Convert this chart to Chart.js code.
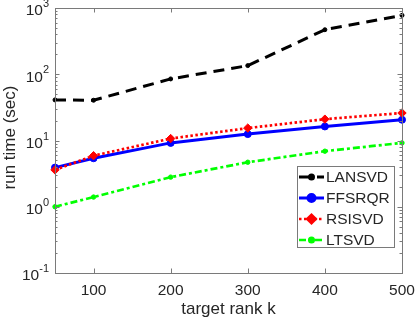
<!DOCTYPE html>
<html>
<head>
<meta charset="utf-8">
<script src="https://cdn.jsdelivr.net/npm/chart.js@4/dist/chart.umd.min.js"></script>
<style>
html,body{margin:0;padding:0;background:#fff;}
#c{display:block;}
</style>
</head>
<body>
<canvas id="c" width="415" height="319"></canvas>
<script>
const ranks = [50, 100, 200, 300, 400, 500];
const lansvd = [41, 40.5, 85, 135, 470, 775];
const ffsrqr = [3.9, 5.4, 9.2, 12.5, 16.3, 20.6];
const rsisvd = [3.6, 5.9, 10.7, 15.4, 21, 26];
const ltsvd = [1.0, 1.4, 2.8, 4.7, 6.9, 9.2];
const xTicks = [100, 200, 300, 400, 500];
const yExponents = [-1, 0, 1, 2, 3];
const seriesNames = ['LANSVD', 'FFSRQR', 'RSISVD', 'LTSVD'];
const xTitle = 'target rank k';
const yTitle = 'run time (sec)';

const FONT = '"Liberation Sans", Arial, Helvetica, sans-serif';
const AXIS_COLOR = '#7a7a7a';
const TEXT_COLOR = '#262626';

function pts(vals){ return ranks.map((k,i)=>({x:k, y:vals[i]})); }

const styles = [
  {color:'#000000', dash:[11,7], pointStyle:'circle', radius:2, width:3, order:4},
  {color:'#0000ff', dash:[], pointStyle:'circle', radius:3.5, width:3, order:3},
  {color:'#ff0000', dash:[2.5,2.5], pointStyle:'rectRot', radius:4.2, width:2.7, order:2},
  {color:'#00ff00', dash:[7,3,3,3], pointStyle:'circle', radius:2.2, width:2.7, order:1}
];
const seriesData = [lansvd, ffsrqr, rsisvd, ltsvd];

const datasets = seriesNames.map((name,i)=>({
  label: name,
  data: pts(seriesData[i]),
  borderColor: styles[i].color,
  backgroundColor: styles[i].color,
  borderWidth: styles[i].width,
  borderDash: styles[i].dash,
  pointStyle: styles[i].pointStyle,
  pointRadius: styles[i].radius,
  pointBorderWidth: 1,
  pointBorderColor: styles[i].color,
  pointBackgroundColor: styles[i].color,
  tension: 0,
  clip: false,
  order: styles[i].order
}));

const framePlugin = {
  id: 'frame',
  afterDraw(chart){
    const ctx = chart.ctx;
    const a = chart.chartArea;
    const xs = chart.scales.x, ys = chart.scales.y;
    ctx.save();
    ctx.setLineDash([]);
    ctx.strokeStyle = AXIS_COLOR;
    ctx.lineWidth = 1;
    ctx.strokeRect(Math.round(a.left)+0.5, Math.round(a.top)+0.5, Math.round(a.right-a.left), Math.round(a.bottom-a.top));
    ctx.beginPath();
    xTicks.forEach(v=>{
      const px = Math.round(xs.getPixelForValue(v))+0.5;
      ctx.moveTo(px, a.bottom); ctx.lineTo(px, a.bottom-4.5);
      ctx.moveTo(px, a.top); ctx.lineTo(px, a.top+4.5);
    });
    for (let e=-1; e<=3; e++){
      const py = Math.round(ys.getPixelForValue(Math.pow(10,e)))+0.5;
      ctx.moveTo(a.left, py); ctx.lineTo(a.left+4.5, py);
      ctx.moveTo(a.right, py); ctx.lineTo(a.right-4.5, py);
      if (e<3){
        for (let m=2; m<=9; m++){
          const pm = Math.round(ys.getPixelForValue(m*Math.pow(10,e)))+0.5;
          ctx.moveTo(a.left, pm); ctx.lineTo(a.left+2.5, pm);
          ctx.moveTo(a.right, pm); ctx.lineTo(a.right-2.5, pm);
        }
      }
    }
    ctx.stroke();

    ctx.fillStyle = TEXT_COLOR;
    ctx.font = '15.5px ' + FONT;
    ctx.textAlign = 'center';
    ctx.textBaseline = 'alphabetic';
    xTicks.forEach(v=>{
      ctx.fillText(String(v), xs.getPixelForValue(v), 295);
    });
    yExponents.forEach(e=>{
      const py = ys.getPixelForValue(Math.pow(10,e));
      const expStr = e<0 ? '-' + Math.abs(e) : String(e);
      ctx.font = '11px ' + FONT;
      const ew = ctx.measureText(expStr).width;
      ctx.textAlign = 'right';
      ctx.textBaseline = 'middle';
      ctx.fillText(expStr, 49, py-4);
      ctx.font = '15.5px ' + FONT;
      ctx.fillText('10', 49-ew, py+3);
    });
    ctx.font = '17px ' + FONT;
    ctx.textAlign = 'center';
    ctx.textBaseline = 'alphabetic';
    ctx.fillText(xTitle, (a.left+a.right)/2, 314);
    ctx.save();
    ctx.translate(15, 137.5);
    ctx.rotate(-Math.PI/2);
    ctx.fillText(yTitle, 0, 0);
    ctx.restore();

    const lx = 297, ly = 166, lw = 97, lh = 81;
    ctx.fillStyle = '#ffffff';
    ctx.fillRect(lx, ly, lw, lh);
    ctx.strokeStyle = AXIS_COLOR;
    ctx.lineWidth = 1;
    ctx.strokeRect(lx+0.5, ly+0.5, lw, lh);
    const rowY = [177, 198, 219, 240];
    chart.data.datasets.forEach((ds,i)=>{
      const y = rowY[i];
      ctx.save();
      ctx.strokeStyle = ds.borderColor;
      ctx.lineWidth = ds.borderWidth;
      ctx.setLineDash(ds.borderDash);
      ctx.beginPath();
      ctx.moveTo(299, y); ctx.lineTo(324, y);
      ctx.stroke();
      ctx.setLineDash([]);
      ctx.fillStyle = ds.pointBackgroundColor;
      Chart.helpers.drawPoint(ctx, {pointStyle: ds.pointStyle, radius: ds.pointRadius, borderWidth: 1, rotation: 0}, 311.5, y);
      ctx.restore();
      ctx.fillStyle = TEXT_COLOR;
      ctx.font = '15.5px ' + FONT;
      ctx.textAlign = 'left';
      ctx.textBaseline = 'middle';
      ctx.fillText(ds.label, 326, y+1);
    });
    ctx.restore();
  }
};

new Chart(document.getElementById('c'), {
  type: 'line',
  data: { datasets },
  options: {
    responsive: false,
    animation: false,
    layout: { padding: { left: 55, top: 8, right: 13, bottom: 46 } },
    plugins: { legend: { display: false }, tooltip: { enabled: false } },
    scales: {
      x: { type: 'linear', min: 50, max: 500, display: false },
      y: { type: 'logarithmic', min: 0.1, max: 1000, display: false }
    }
  },
  plugins: [framePlugin]
});
</script>
</body>
</html>
